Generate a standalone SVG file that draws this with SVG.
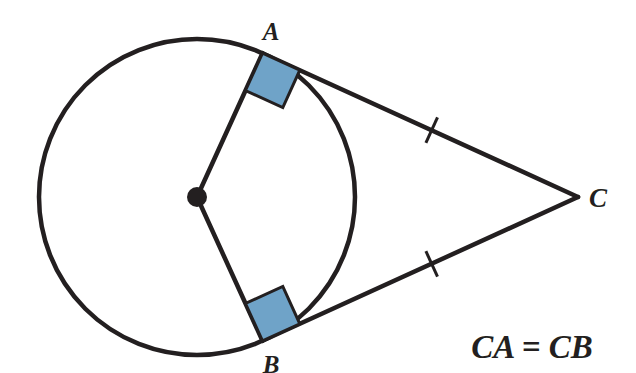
<svg xmlns="http://www.w3.org/2000/svg" width="636" height="373" viewBox="0 0 636 373">
<style>
.ln{stroke:#231f20;stroke-width:4.5;fill:none;stroke-linecap:round}
.tk{stroke:#231f20;stroke-width:3;fill:none}
.sq{fill:#6fa3c8;stroke:#231f20;stroke-width:3;stroke-linejoin:miter}
.lbl{font-style:italic;font-weight:bold;fill:#231f20}
</style>
<rect width="636" height="373" fill="#fff"/>
<g id="connectors">
<circle class="ln" cx="197" cy="197" r="158"/>
<line class="ln" x1="197" y1="197" x2="262.5" y2="53.2"/>
<line class="ln" x1="197" y1="197" x2="262.5" y2="340.8"/>
<line class="ln" x1="262.5" y1="53.2" x2="578" y2="197"/>
<line class="ln" x1="262.5" y1="340.8" x2="578" y2="197"/>
<line class="tk" x1="437.5" y1="117.4" x2="425.9" y2="142.8"/>
<line class="tk" x1="437.5" y1="276.6" x2="425.9" y2="251.2"/>
</g>
<g id="rightA"><polygon class="sq" points="262.5,53.2 299.8,70.2 282.8,107.5 245.5,90.5"/></g>
<g id="rightB"><polygon class="sq" points="262.5,340.8 299.8,323.8 282.8,286.5 245.5,303.5"/></g>
<g id="O"><circle cx="197" cy="197" r="10" fill="#231f20"/></g>
<g id="A"><text class="lbl" font-family="Liberation Serif, serif" x="271" y="40" font-size="25" text-anchor="middle">A</text></g>
<g id="B"><text class="lbl" font-family="Liberation Serif, serif" x="271" y="373" font-size="25" text-anchor="middle">B</text></g>
<g id="C"><text class="lbl" font-family="Liberation Serif, serif" x="598" y="207" font-size="27" text-anchor="middle">C</text></g>
<g id="eq"><text class="lbl" font-family="Liberation Serif, serif" x="532" y="358" font-size="33" text-anchor="middle">CA = CB</text></g>
</svg>
